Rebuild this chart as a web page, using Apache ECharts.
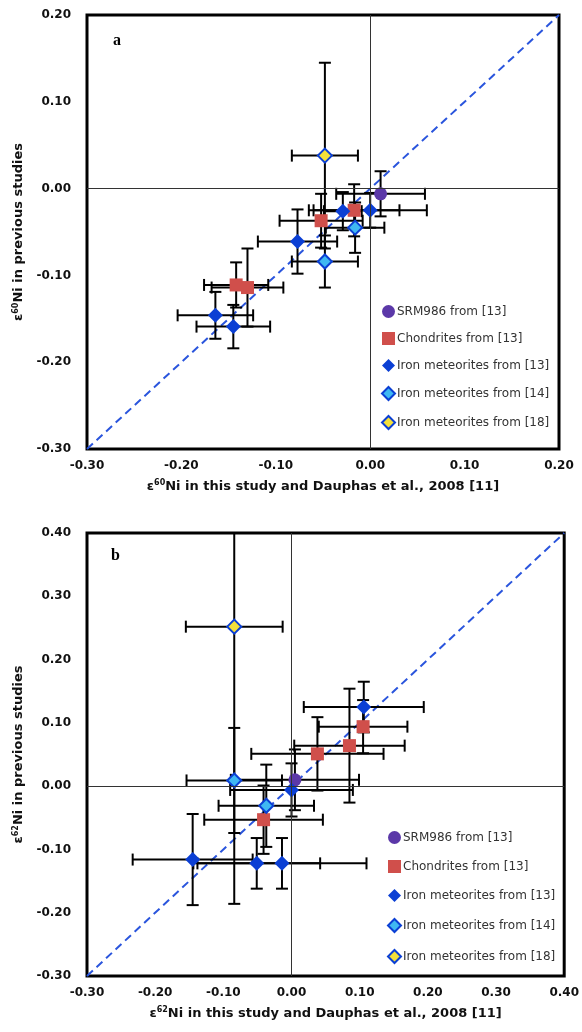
<!DOCTYPE html>
<html>
	<head>
		<meta charset="utf-8">
		<title>Ni isotopes</title>
		<style>
html, body {
	width: 100%;
	height: 100%;
	margin: 0;
	background: #fff;
}
#box {
	width: 582px;
	height: 1032px;
}
		</style>
	</head>
	<body>
		<div id="box"></div>
	</body>
	<script src="https://cdn.jsdelivr.net/npm/echarts@6/dist/echarts.min.js"></script>
	<script type="text/javascript">
// each point: [x, y, x error, y error]
var seriesNames = ['SRM986 from [13]', 'Chondrites from [13]', 'Iron meteorites from [13]', 'Iron meteorites from [14]', 'Iron meteorites from [18]'];

// panel a : e60Ni
var srmA = [[0.011, -0.006, 0.047, 0.026]];
var chonA = [[-0.052, -0.037, 0.044, 0.031], [-0.017, -0.025, 0.048, 0.030], [-0.142, -0.111, 0.034, 0.026], [-0.130, -0.114, 0.038, 0.045]];
var iron13A = [[-0.029, -0.026, 0.020, 0.022], [0.000, -0.025, 0.060, 0.020], [-0.077, -0.061, 0.042, 0.037], [-0.164, -0.146, 0.040, 0.027], [-0.145, -0.159, 0.039, 0.025]];
var iron14A = [[-0.016, -0.045, 0.031, 0.029], [-0.048, -0.084, 0.035, 0.030]];
var iron18A = [[-0.048, 0.038, 0.035, 0.107]];
var rangeA = [-0.30, 0.20];

// panel b : e62Ni
var srmB = [[0.005, 0.010, 0.094, 0.048]];
var chonB = [[0.105, 0.094, 0.065, 0.042], [0.085, 0.064, 0.081, 0.090], [0.038, 0.051, 0.097, 0.058], [-0.041, -0.053, 0.087, 0.054]];
var iron13B = [[0.106, 0.125, 0.088, 0.040], [0.000, -0.006, 0.090, 0.042], [-0.145, -0.116, 0.088, 0.072], [-0.051, -0.122, 0.093, 0.040], [-0.014, -0.122, 0.124, 0.040]];
var iron14B = [[-0.084, 0.009, 0.070, 0.083], [-0.037, -0.031, 0.070, 0.065]];
var iron18B = [[-0.084, 0.252, 0.071, 0.438]];
var rangeB = [-0.30, 0.40];

var myChart = echarts.init(document.getElementById('box'));

var FONT = 'DejaVu Sans';
var BLUE = '#0b3fd4';

var markStyles = [
	{ symbol: 'circle', symbolSize: 13, itemStyle: { color: '#5b38a8', opacity: 1 } },
	{ symbol: 'rect', symbolSize: 13, itemStyle: { color: '#d04f4b', opacity: 1 } },
	{ symbol: 'diamond', symbolSize: 15, itemStyle: { color: BLUE, opacity: 1 } },
	{ symbol: 'diamond', symbolSize: 14, itemStyle: { color: '#3fb8f2', borderColor: BLUE, borderWidth: 2, opacity: 1 } },
	{ symbol: 'diamond', symbolSize: 14, itemStyle: { color: '#f4e03a', borderColor: BLUE, borderWidth: 2, opacity: 1 } }
];

function errBars(params, api) {
	var x = api.value(0), y = api.value(1), ex = api.value(2), ey = api.value(3);
	var l = api.coord([x - ex, y]), r = api.coord([x + ex, y]);
	var t = api.coord([x, y + ey]), b = api.coord([x, y - ey]);
	var h = 6;
	var st = { stroke: '#000', lineWidth: 2 };
	function seg(x1, y1, x2, y2) {
		return { type: 'line', shape: { x1: x1, y1: y1, x2: x2, y2: y2 }, style: st };
	}
	return {
		type: 'group',
		children: [
			seg(l[0], l[1], r[0], r[1]),
			seg(l[0], l[1] - h, l[0], l[1] + h),
			seg(r[0], r[1] - h, r[0], r[1] + h),
			seg(t[0], t[1], b[0], b[1]),
			seg(t[0] - h, t[1], t[0] + h, t[1]),
			seg(b[0] - h, b[1], b[0] + h, b[1])
		]
	};
}

function nameRich() {
	return {
		n: { fontFamily: FONT, fontWeight: 'bold', fontSize: 13, color: '#111' },
		s: { fontFamily: FONT, fontWeight: 'bold', fontSize: 8, color: '#111', verticalAlign: 'bottom', padding: [0, 0, 7, 0] }
	};
}

function axis(idx, range, name, isX) {
	return {
		type: 'value',
		gridIndex: idx,
		min: range[0],
		max: range[1],
		interval: 0.1,
		name: name,
		nameLocation: 'middle',
		nameGap: isX ? 30 : 58,
		nameTextStyle: { rich: nameRich() },
		axisLine: { show: false },
		axisTick: { show: false },
		splitLine: { show: false },
		axisLabel: {
			margin: isX ? 11 : 16,
			fontFamily: FONT,
			fontWeight: 'bold',
			fontSize: 12,
			color: '#111',
			formatter: function (v) { return v.toFixed(2); }
		}
	};
}

var groupsA = [srmA, chonA, iron13A, iron14A, iron18A];
var groupsB = [srmB, chonB, iron13B, iron14B, iron18B];

var series = [];
[[groupsA, rangeA], [groupsB, rangeB]].forEach(function (p, idx) {
	var groups = p[0], range = p[1];
	// 1:1 line and zero lines
	series.push({
		type: 'line',
		xAxisIndex: idx,
		yAxisIndex: idx,
		data: [[range[0], range[0]], [range[1], range[1]]],
		symbol: 'none',
		silent: true,
		lineStyle: { color: '#2a55dd', width: 2, type: [8, 5] },
		z: 1,
		markLine: {
			silent: true,
			symbol: 'none',
			label: { show: false },
			lineStyle: { color: '#333', width: 1, type: 'solid' },
			data: [{ xAxis: 0 }, { yAxis: 0 }]
		}
	});
	var all = [];
	groups.forEach(function (g) { all = all.concat(g); });
	series.push({
		type: 'custom',
		xAxisIndex: idx,
		yAxisIndex: idx,
		renderItem: errBars,
		clip: true,
		silent: true,
		data: all,
		z: 2
	});
	groups.forEach(function (g, k) {
		series.push({
			type: 'scatter',
			name: seriesNames[k],
			xAxisIndex: idx,
			yAxisIndex: idx,
			data: g.map(function (d) { return [d[0], d[1]]; }),
			symbol: markStyles[k].symbol,
			symbolSize: markStyles[k].symbolSize,
			itemStyle: markStyles[k].itemStyle,
			z: 3
		});
	});
});

function legend(left, top, gap) {
	return {
		orient: 'vertical',
		left: left,
		top: top,
		itemWidth: 13,
		itemHeight: 13,
		itemGap: gap,
		selectedMode: false,
		padding: 0,
		textStyle: { fontFamily: FONT, fontSize: 12, color: '#333', padding: [0, 0, 0, -3] },
		data: seriesNames
	};
}

var option = {
	backgroundColor: '#fff',
	animation: false,
	title: [
		{ text: 'a', left: 108, top: 28, textStyle: { fontFamily: 'Liberation Serif', fontWeight: 'bold', fontSize: 16, color: '#000' } },
		{ text: 'b', left: 106, top: 543, textStyle: { fontFamily: 'Liberation Serif', fontWeight: 'bold', fontSize: 16, color: '#000' } }
	],
	legend: [legend(381, 305, 14), legend(387, 831, 16)],
	grid: [
		{ left: 87, top: 15, width: 472, height: 434, show: true, borderColor: '#000', borderWidth: 3, backgroundColor: 'transparent' },
		{ left: 87, top: 533, width: 478, height: 443, show: true, borderColor: '#000', borderWidth: 3, backgroundColor: 'transparent' }
	],
	xAxis: [
		axis(0, rangeA, '{n|ε}{s|60}{n|Ni in this study and Dauphas et al., 2008 [11]}', true),
		axis(1, rangeB, '{n|ε}{s|62}{n|Ni in this study and Dauphas et al., 2008 [11]}', true)
	],
	yAxis: [
		axis(0, rangeA, '{n|ε}{s|60}{n|Ni in previous studies}', false),
		axis(1, rangeB, '{n|ε}{s|62}{n|Ni in previous studies}', false)
	],
	series: series
};

myChart.setOption(option);
	</script>
</html>
